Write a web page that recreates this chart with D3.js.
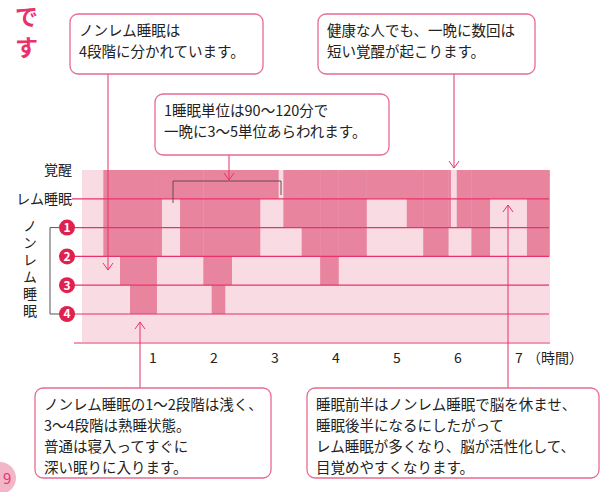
<!DOCTYPE html>
<html><head><meta charset="utf-8">
<script src="https://cdn.jsdelivr.net/npm/d3@7"></script>
<style>body{margin:0;background:#fff}text{font-family:"Noto Sans CJK JP",sans-serif}</style>
</head><body>
<script>
// hypnogram segments: [start hour, end hour, depth] depth 0=覚醒 1=レム 2..5 = ノンレム1..4
const segStart = [0.186,0.459,0.623,1.06,1.142,1.443,1.825,1.962,2.18,2.29,2.754,3.055,3.137,3.437,3.74,4.04,4.50,5.16,5.43,5.84,5.88,5.98,6.22,6.52,7.13];
const segEnd   = [0.459,0.623,1.06,1.142,1.443,1.825,1.962,2.18,2.29,2.754,3.055,3.137,3.437,3.74,4.04,4.50,5.16,5.43,5.84,5.88,5.98,6.22,6.52,7.13,7.50];
const segDepth = [3,4,5,3,1,3,4,5,4,3,1,0,2,3,4,3,1,2,3,2,0,2,3,1,3];
const hourTicks = [1,2,3,4,5,6,7];
const stageLabels = ["覚醒","レム睡眠"];
const nremStages = ["1","2","3","4"];

const W = 606, H = 492, pink = "#e8336a", fillC = "#e9849f";
const svg = d3.select("body").append("svg").attr("width", W).attr("height", H);
const x = d3.scaleLinear().domain([0, 7.5]).range([92, 549.5]);
const y = d3.scaleLinear().domain([0, 5]).range([170, 314]);

// background and bars
svg.append("rect").attr("x", 82).attr("y", 170).attr("width", 468).attr("height", 172).attr("fill", "#f9dbe4");
svg.append("g").selectAll("rect").data(d3.range(segStart.length)).join("rect")
  .attr("x", i => x(segStart[i])).attr("width", i => x(segEnd[i]) - x(segStart[i]) + 0.3)
  .attr("y", y(0)).attr("height", i => segDepth[i] === 0 ? 0 : y(segDepth[i]) - y(0))
  .attr("fill", fillC);

// level lines
svg.append("g").selectAll("line").data([1,2,3,4,5]).join("line")
  .attr("x1", 72).attr("x2", 549).attr("y1", d => y(d)).attr("y2", d => y(d))
  .attr("stroke", pink).attr("stroke-width", 1.2);
svg.append("line").attr("x1", 74).attr("x2", 550).attr("y1", 343).attr("y2", 343).attr("stroke", pink).attr("stroke-width", 1.2);

// stage labels
svg.append("g").selectAll("text").data(stageLabels).join("text")
  .attr("x", 72).attr("y", (d, i) => y(i)).attr("dy", "0.35em").attr("text-anchor", "end")
  .attr("font-size", 14).attr("fill", "#222").text(d => d);
const nr = svg.append("g");
nr.append("path").attr("d", `M60,${y(2)}H50V${y(5)}H60`).attr("fill", "none").attr("stroke", "#555");
nr.selectAll("circle").data(nremStages).join("circle")
  .attr("cx", 67).attr("cy", (d, i) => y(i + 2)).attr("r", 8).attr("fill", "#e0204f");
nr.selectAll("text.n").data(nremStages).join("text").attr("class", "n")
  .attr("x", 67).attr("y", (d, i) => y(i + 2)).attr("dy", "0.36em").attr("text-anchor", "middle")
  .attr("font-size", 12).attr("font-weight", "bold").attr("fill", "#fff").text(d => d);
nr.append("text").attr("x", 30).attr("y", 219)
  .style("writing-mode", "vertical-rl").attr("letter-spacing", 3)
  .attr("font-size", 14).attr("fill", "#222").text("ノンレム睡眠");

// x axis labels
svg.append("g").selectAll("text").data(hourTicks).join("text")
  .attr("x", d => x(d)).attr("y", 358).attr("dy", "0.35em").attr("text-anchor", "middle")
  .attr("font-size", 14).attr("fill", "#222").text(d => d);
svg.append("text").attr("x", x(7) + 8).attr("y", 358).attr("dy", "0.35em").attr("font-size", 14).attr("fill", "#222").text("（時間）");

// title fragment
svg.append("text").attr("x", 15).attr("y", 25).attr("font-size", 23).attr("font-weight", "bold").attr("fill", "#e8336a").text("で");
svg.append("text").attr("x", 15).attr("y", 56).attr("font-size", 23).attr("font-weight", "bold").attr("fill", "#e8336a").text("す");
svg.append("circle").attr("cx", 0).attr("cy", 478).attr("r", 16).attr("fill", "#f3b6c8");
svg.append("text").attr("x", 3).attr("y", 484).attr("font-size", 15).attr("fill", "#e8336a").text("9");

// callouts
const boxes = [
  {x: 70, y: 14, w: 193, h: 60, lines: ["ノンレム睡眠は", "4段階に分かれています。"]},
  {x: 318, y: 14, w: 217, h: 60, lines: ["健康な人でも、一晩に数回は", "短い覚醒が起こります。"]},
  {x: 155, y: 94, w: 234, h: 61, lines: ["1睡眠単位は90〜120分で", "一晩に3〜5単位あらわれます。"]},
  {x: 35, y: 388, w: 236, h: 90, lines: ["ノンレム睡眠の1〜2段階は浅く、", "3〜4段階は熟睡状態。", "普通は寝入ってすぐに", "深い眠りに入ります。"]},
  {x: 307, y: 388, w: 292, h: 90, lines: ["睡眠前半はノンレム睡眠で脳を休ませ、", "睡眠後半になるにしたがって", "レム睡眠が多くなり、脳が活性化して、", "目覚めやすくなります。"]}
];
// pointer lines with arrows: [x, y1, y2]
const pointers = [[108, 74, 270], [454, 74, 168], [229, 155, 180], [140, 388, 322], [508, 388, 205]];
const pg = svg.append("g").attr("stroke", pink).attr("fill", "none").attr("stroke-width", 1);
pointers.forEach(([px, y1, y2]) => {
  const s = y2 > y1 ? -1 : 1;
  pg.append("path").attr("d", `M${px},${y1}V${y2}M${px - 5},${y2 + 7 * s}L${px},${y2}L${px + 5},${y2 + 7 * s}`);
});
svg.append("path").attr("d", "M173,203V181H281V195").attr("fill", "none").attr("stroke", "#6a4a4a").attr("stroke-width", 1);

const bg = svg.append("g").selectAll("g").data(boxes).join("g");
bg.append("rect").attr("x", d => d.x).attr("y", d => d.y).attr("width", d => d.w).attr("height", d => d.h)
  .attr("rx", 8).attr("fill", "#fff").attr("stroke", "#e86a8e").attr("stroke-width", 1.3);
bg.each(function(d) {
  d3.select(this).selectAll("text").data(d.lines).join("text")
    .attr("x", d.x + 9).attr("y", (t, i) => d.y + 22 + i * 21)
    .attr("font-size", 14.5).attr("fill", "#222").text(t => t);
});
</script>
</body></html>
